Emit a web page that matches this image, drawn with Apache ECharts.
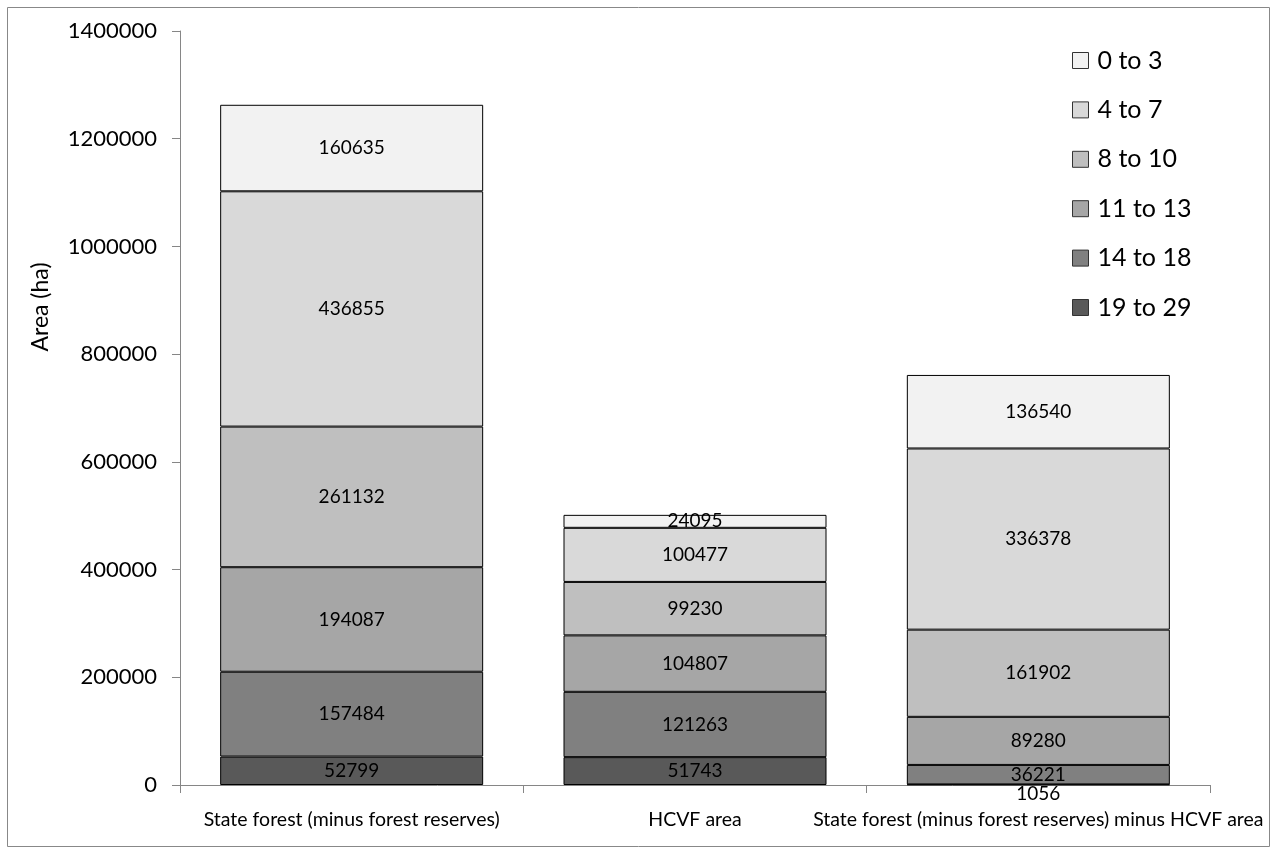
<!DOCTYPE html>
<html><head><meta charset="utf-8">
<script src="https://cdn.jsdelivr.net/npm/echarts@6/dist/echarts.min.js"></script>
<style>html,body{margin:0;padding:0;background:#fff}#c{width:1276px;height:854px}</style>
</head><body><div id="c"></div>
<script>
const categories = ["State forest (minus forest reserves)", "HCVF area", "State forest (minus forest reserves) minus HCVF area"];
const seriesNames = ["19 to 29", "14 to 18", "11 to 13", "8 to 10", "4 to 7", "0 to 3"];
const s19to29 = [52799, 51743, 1056];
const s14to18 = [157484, 121263, 36221];
const s11to13 = [194087, 104807, 89280];
const s8to10 = [261132, 99230, 161902];
const s4to7 = [436855, 100477, 336378];
const s0to3 = [160635, 24095, 136540];
const yTicks = [0, 200000, 400000, 600000, 800000, 1000000, 1200000, 1400000];
const yTitle = 'Area (ha)';

const values = [s19to29, s14to18, s11to13, s8to10, s4to7, s0to3];
const colors = ["#595959", "#808080", "#A6A6A6", "#BFBFBF", "#D9D9D9", "#F2F2F2"];
const font = "Lato, 'Open Sans', sans-serif";

const chart = echarts.init(document.getElementById('c'));
const series = seriesNames.map((n, i) => ({
  name: n, type: 'bar', stack: 'total', barWidth: 263,
  itemStyle: { color: colors[i], borderColor: '#000', borderWidth: 1 },
  label: { show: true, position: 'inside', color: '#000', fontSize: 19, fontFamily: font },
  data: values[i].map((v, j) => (i === 0 && j === 2) ? { value: v, label: { offset: [0, 9] } } : v)
}));
chart.setOption({
  animation: false,
  graphic: [
    { type: 'rect', shape: { x: 7.5, y: 7.5, width: 1262, height: 839 }, style: { fill: null, stroke: '#888', lineWidth: 1 } },
    { type: 'text', x: 41, y: 307, rotation: Math.PI / 2,
      style: { text: yTitle, fontSize: 23, fontFamily: font, fill: '#000', align: 'center', verticalAlign: 'middle' } }
  ],
  grid: { left: 180, right: 66, top: 31, bottom: 69 },
  legend: {
    orient: 'vertical', left: 1072, top: 48, padding: 0, itemGap: 24.4, itemWidth: 16, itemHeight: 16,
    icon: 'rect', data: seriesNames.slice().reverse(),
    itemStyle: { borderColor: '#333', borderWidth: 1 },
    textStyle: { fontSize: 25, lineHeight: 25, fontFamily: font, color: '#000', padding: [0, 0, 0, 4] }
  },
  xAxis: {
    type: 'category', data: categories,
    axisLine: { lineStyle: { color: '#868686', width: 1 } },
    axisTick: { show: true, length: 8, lineStyle: { color: '#868686' } },
    axisLabel: { fontSize: 19.5, fontFamily: font, color: '#000', margin: 25, interval: 0 }
  },
  yAxis: {
    type: 'value', min: 0, max: 1400000, interval: 200000,
    axisLine: { show: true, lineStyle: { color: '#868686', width: 1 } },
    axisTick: { show: true, length: 8, lineStyle: { color: '#868686' } },
    axisLabel: { fontSize: 22, fontFamily: font, color: '#000', margin: 23,
      formatter: v => yTicks.includes(v) ? String(v) : '' },
    splitLine: { show: false }
  },
  series
});
</script></body></html>
